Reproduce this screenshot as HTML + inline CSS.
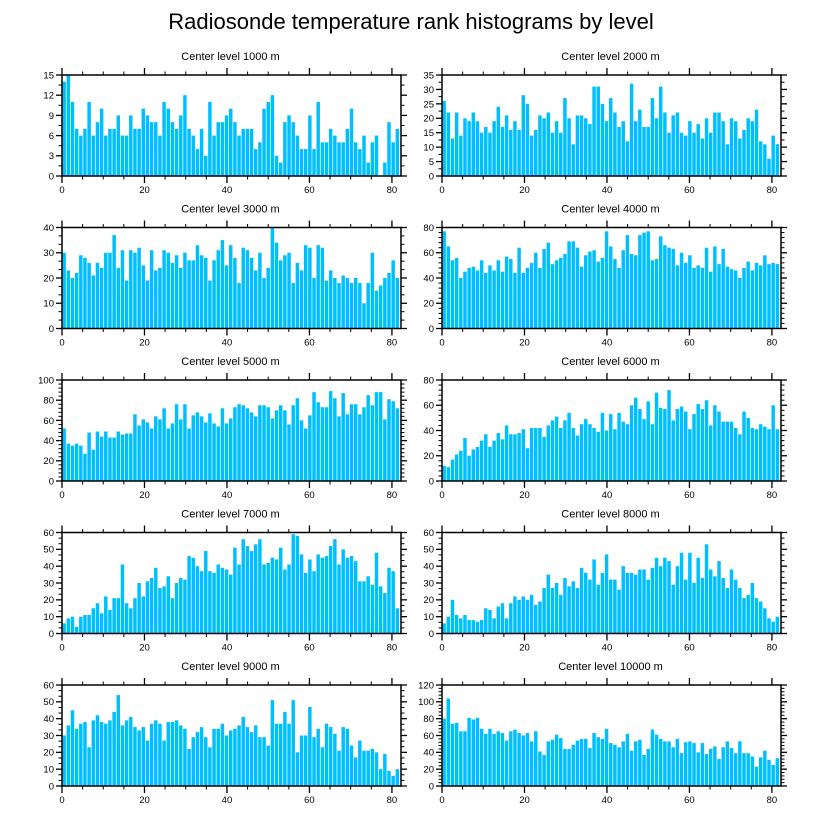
<!DOCTYPE html>
<html><head><meta charset="utf-8"><style>
html,body{margin:0;padding:0;background:#fff;}
svg{display:block;font-family:"Liberation Sans",sans-serif;}
</style></head><body>
<svg id="chart" width="822" height="824" viewBox="0 0 822 824" xmlns="http://www.w3.org/2000/svg">
<text x="411" y="29" text-anchor="middle" font-size="22">Radiosonde temperature rank histograms by level</text>
</svg>
<script>
const panelTitles = ["Center level 1000 m","Center level 2000 m","Center level 3000 m","Center level 4000 m","Center level 5000 m","Center level 6000 m","Center level 7000 m","Center level 8000 m","Center level 9000 m","Center level 10000 m"];
const yMax = [15,35,40,80,100,80,60,60,60,120];
const yStep = [3,5,10,20,20,20,10,10,10,20];
const yMinor = [1,1,2,4,4,4,2,2,2,4];
const xTicks = [0,20,40,60,80];
const s1000 = [14,15,11,7,6,7,11,6,8,10,6,7,7,9,6,6,9,7,7,10,9,8,8,6,11,10,8,7,9,12,7,6,4,7,3,11,6,8,8,9,10,8,6,7,7,7,4,5,10,11,12,3,2,8,9,8,6,4,4,9,4,11,5,5,7,6,5,5,7,10,5,4,6,2,5,6,0,2,8,5,7];
const s2000 = [26,22,13,22,14,20,19,22,19,15,17,15,19,24,17,21,16,19,16,28,25,14,16,21,20,22,15,19,15,27,20,11,21,21,20,18,31,31,25,19,27,22,17,19,12,32,19,23,17,17,27,20,31,22,15,21,22,15,14,19,15,18,13,20,15,22,22,19,11,20,19,13,16,20,19,23,12,11,6,14,11];
const s3000 = [30,23,20,22,29,28,26,21,26,24,30,30,37,24,31,19,31,30,32,25,19,31,23,24,31,30,26,29,24,30,27,27,33,29,28,19,27,31,35,25,33,28,18,32,31,28,23,30,20,24,40,34,27,29,30,18,26,23,33,32,20,33,32,19,23,20,18,21,20,18,20,18,10,18,30,15,17,20,22,27,20];
const s4000 = [77,65,54,56,40,45,48,49,46,54,44,50,46,54,45,57,55,44,64,44,48,52,60,48,63,68,51,54,56,59,69,69,64,49,58,61,62,53,56,77,65,55,48,62,74,59,58,74,76,77,54,55,73,66,64,63,50,60,52,58,48,50,48,64,45,65,51,63,49,47,46,40,48,53,46,52,50,58,51,52,51];
const s5000 = [52,37,35,37,35,27,48,31,49,44,49,43,43,49,46,47,47,66,55,61,58,52,64,61,72,52,57,76,61,76,52,65,68,64,58,67,57,54,72,57,62,73,76,75,72,68,64,75,75,73,62,70,75,70,56,75,82,60,52,65,88,78,73,73,89,82,64,87,66,76,76,66,73,85,75,88,88,61,81,79,72];
const s6000 = [12,11,17,21,24,34,20,25,27,32,37,27,32,38,33,44,37,37,38,41,26,42,42,42,35,44,48,51,42,48,54,42,36,45,49,45,42,39,54,40,53,41,54,47,45,60,66,57,49,63,45,70,58,57,72,48,57,59,55,41,53,61,57,64,44,60,55,47,47,47,42,37,55,50,42,41,45,43,41,60,41];
const s7000 = [6,9,10,4,10,11,11,15,18,12,22,14,21,21,41,18,15,21,30,22,31,33,39,27,28,34,21,30,33,32,46,45,40,37,49,37,36,41,39,38,35,51,41,56,52,49,53,56,41,42,45,44,51,38,41,59,58,47,36,44,37,47,45,46,52,56,41,50,45,46,43,31,31,34,29,48,28,24,39,37,15];
const s8000 = [6,10,20,11,9,11,8,8,7,8,15,14,9,16,18,9,18,22,20,22,20,23,17,19,27,35,27,30,23,33,28,31,27,39,36,32,44,29,36,47,32,32,26,40,36,36,35,38,38,32,39,45,40,45,43,29,40,48,32,48,30,45,33,53,38,34,43,33,27,38,32,27,21,23,30,21,19,15,9,7,10];
const s9000 = [30,36,45,34,37,38,23,39,42,38,37,39,44,54,36,39,41,35,33,35,27,37,39,37,27,38,38,39,36,34,22,29,32,35,29,23,34,34,37,30,33,34,36,41,35,32,36,29,29,24,51,37,37,44,37,51,20,30,30,47,29,34,23,37,35,31,21,35,34,24,17,27,21,21,22,20,10,19,9,6,10];
const s10000 = [80,104,74,75,65,65,81,79,81,68,62,68,62,65,63,54,65,67,63,60,63,53,65,41,37,53,55,61,57,44,44,49,54,56,56,45,63,58,56,68,51,49,46,53,62,42,53,55,37,44,67,61,56,53,53,46,56,39,52,53,51,40,51,38,44,47,32,46,53,45,39,53,39,39,35,23,34,42,31,25,33];
const series = [s1000,s2000,s3000,s4000,s5000,s6000,s7000,s8000,s9000,s10000];

const NS = "http://www.w3.org/2000/svg";
const svg = document.getElementById('chart');
function mk(tag, attrs, parent){const e=document.createElementNS(NS,tag);for(const k in attrs)e.setAttribute(k,attrs[k]);(parent||svg).appendChild(e);return e;}

const PW = 339, PH = 101, XMAX = 82.2;
for (let p = 0; p < 10; p++) {
  const col = p % 2, row = Math.floor(p / 2);
  const L = col ? 442 : 62, T = 75 + row * 152.5;
  const g = mk('g', {});
  
  
  const xs = v => L + v / XMAX * PW;
  const ys = v => T + PH - v / yMax[p] * PH;
  const vals = series[p];
  const bw = 81.8 / vals.length;
  vals.forEach((v, i) => {
    const x0 = xs(i * bw + 0.1), x1 = xs((i + 1) * bw + 0.1);
    const r = mk('rect', {x: x0, y: ys(Math.min(v, yMax[p])), width: Math.max(0, x1 - x0 - 0.7), height: Math.max(0, ys(0) - ys(Math.min(v, yMax[p]))), fill: '#00bfff'}, g);
    
    
  });
  const fr = mk('rect', {x: L, y: T, width: PW, height: PH, fill: 'none', stroke: '#000', 'stroke-width': 1.5}, g);
  
  
  for (let v = 0; v <= 80; v += 5) {
    const major = v % 20 === 0, len = major ? 7 : 3.5, x = xs(v);
    mk('line', {x1: x, x2: x, y1: T + PH, y2: T + PH + len, stroke: '#000', 'stroke-width': major ? 1.3 : 1}, g);
    mk('line', {x1: x, x2: x, y1: T, y2: T - len, stroke: '#000', 'stroke-width': major ? 1.3 : 1}, g);
  }
  xTicks.forEach(v => {
    const t = mk('text', {x: xs(v), y: T + PH + 17, 'text-anchor': 'middle', 'font-size': 9.5}, g);
    t.textContent = v;
    
    
  });
  const minorStep = yStep[p] / (yMinor[p] + 1);
  for (let k = 0; k * minorStep <= yMax[p] + 1e-9; k++) {
    const v = k * minorStep, major = k % (yMinor[p] + 1) === 0, len = major ? 6 : 3.5, y = ys(v);
    mk('line', {x1: L, x2: L - len, y1: y, y2: y, stroke: '#000', 'stroke-width': major ? 1.3 : 1}, g);
    mk('line', {x1: L + PW, x2: L + PW + len, y1: y, y2: y, stroke: '#000', 'stroke-width': major ? 1.3 : 1}, g);
  }
  for (let v = 0; v <= yMax[p] + 1e-9; v += yStep[p]) {
    const t = mk('text', {x: L - 8, y: ys(v) + 3.4, 'text-anchor': 'end', 'font-size': 9.5}, g);
    t.textContent = v;
    
    
  }
  const tt = mk('text', {x: L + PW / 2 - 1, y: T - 15, 'text-anchor': 'middle', 'font-size': 11}, g);
  tt.textContent = panelTitles[p];
  
  
}
</script>
</body></html>
